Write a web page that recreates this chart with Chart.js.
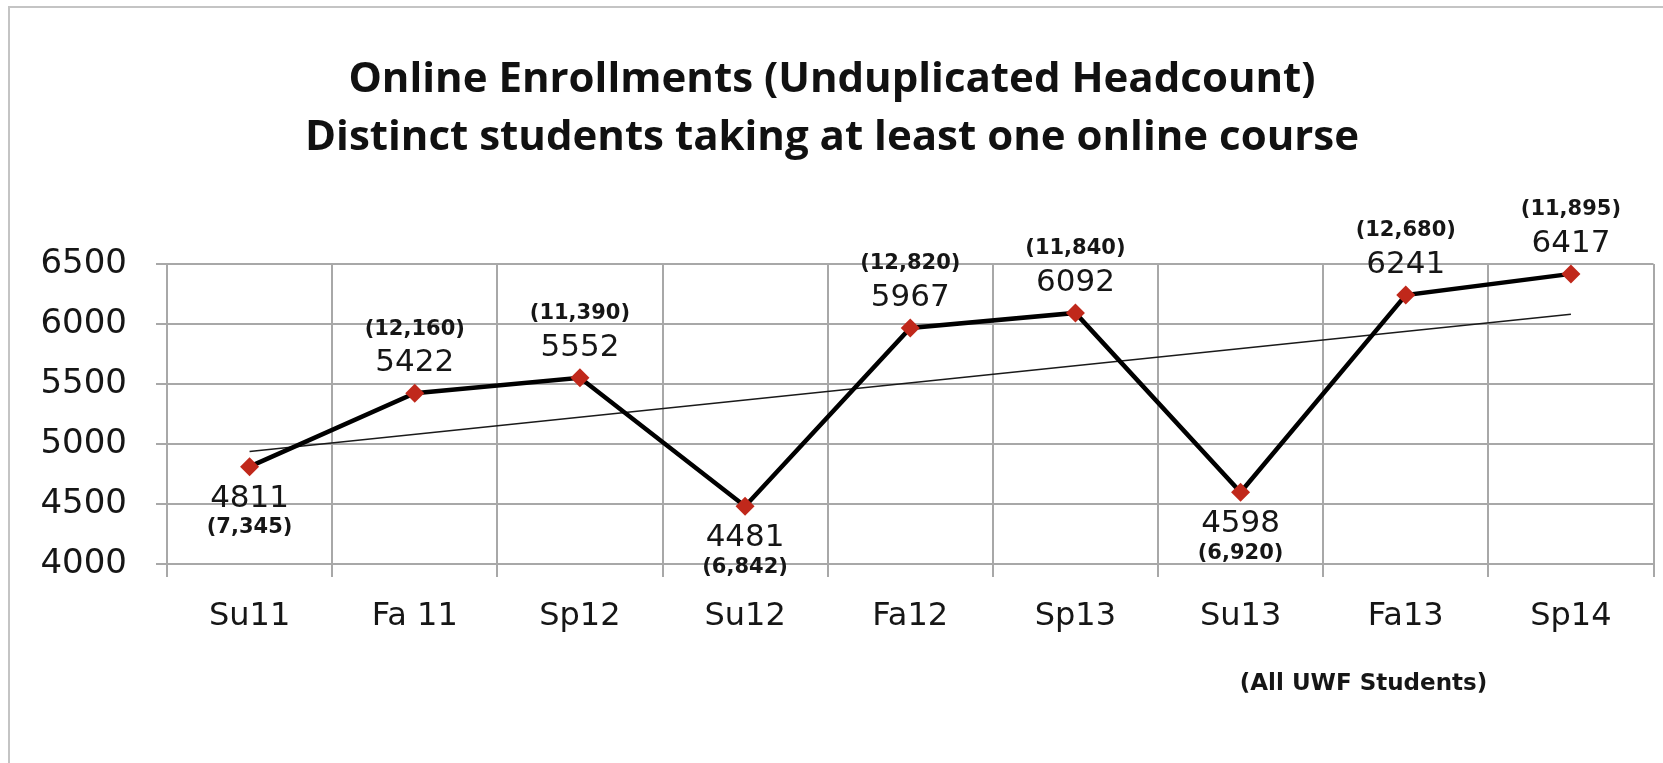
<!DOCTYPE html>
<html>
<head>
<meta charset="utf-8">
<title>Online Enrollments</title>
<script src="https://cdn.jsdelivr.net/npm/chart.js@4"></script>
<style>
  html, body { margin: 0; padding: 0; background: #fff; }
  #wrap { width: 1663px; height: 763px; }
</style>
</head>
<body>
<div id="wrap"><canvas id="line-chart" width="1663" height="763"></canvas></div>
<script>
// terms on the x axis
var terms = ["Su11", "Fa 11", "Sp12", "Su12", "Fa12", "Sp13", "Su13", "Fa13", "Sp14"];
// online unduplicated headcount
var onlineStudents = [4811, 5422, 5552, 4481, 5967, 6092, 4598, 6241, 6417];
// all UWF students (shown in brackets)
var allStudents = ["(7,345)", "(12,160)", "(11,390)", "(6,842)", "(12,820)", "(11,840)", "(6,920)", "(12,680)", "(11,895)"];
// which side of the marker the labels sit on
var labelSide = ["below", "above", "above", "below", "above", "above", "below", "above", "above"];
// linear trend line, start and end values
var trendLine = [4937, null, null, null, null, null, null, null, 6081];
var yTicks = [4000, 4500, 5000, 5500, 6000, 6500];

var gridGray = "#a8a8a8";
var textDark = "#161616";

var decorations = {
  id: "decorations",
  beforeDraw: function (chart) {
    var ctx = chart.ctx;
    ctx.save();
    ctx.fillStyle = "#ffffff";
    ctx.fillRect(0, 0, chart.width, chart.height);
    ctx.strokeStyle = "#c4c4c4";
    ctx.lineWidth = 2;
    ctx.beginPath();
    ctx.moveTo(9, chart.height);
    ctx.lineTo(9, 7);
    ctx.lineTo(chart.width, 7);
    ctx.stroke();
    ctx.restore();
  },
  afterDatasetsDraw: function (chart) {
    var ctx = chart.ctx;
    var meta = chart.getDatasetMeta(0);
    ctx.save();
    ctx.textAlign = "center";
    ctx.textBaseline = "middle";
    ctx.fillStyle = textDark;
    meta.data.forEach(function (pt, i) {
      var up = labelSide[i] === "above";
      ctx.font = "31px 'DejaVu Sans'";
      ctx.fillText(String(onlineStudents[i]), pt.x, pt.y + (up ? -30 : 32));
      ctx.font = "bold 21px 'DejaVu Sans'";
      ctx.fillText(allStudents[i], pt.x, pt.y + (up ? -64 : 61));
    });
    ctx.font = "bold 23px 'DejaVu Sans'";
    ctx.fillText("(All UWF Students)", chart.chartArea.right - 290, 684);
    ctx.restore();
  }
};

new Chart(document.getElementById("line-chart"), {
  type: "line",
  data: {
    labels: terms,
    datasets: [
      {
        label: "Online",
        data: onlineStudents,
        borderColor: "#000000",
        borderWidth: 4.5,
        tension: 0,
        pointStyle: "rectRot",
        pointRadius: 9.5,
        pointBackgroundColor: "#c0281b",
        pointBorderColor: "#c0281b",
        pointBorderWidth: 0,
        clip: false
      },
      {
        label: "Trend",
        data: trendLine,
        spanGaps: true,
        borderColor: "#1a1a1a",
        borderWidth: 1.5,
        pointRadius: 0,
        tension: 0
      }
    ]
  },
  options: {
    responsive: false,
    animation: false,
    events: [],
    layout: { padding: { left: 8, right: 7, top: 0, bottom: 0 } },
    plugins: {
      legend: { display: false },
      tooltip: { enabled: false },
      title: {
        display: true,
        text: ["Online Enrollments (Unduplicated Headcount)", "Distinct students taking at least one online course"],
        color: "#111111",
        font: { family: "'Open Sans'", size: 42, weight: "bold", lineHeight: 1.38 },
        padding: { top: 51, bottom: 97 }
      }
    },
    scales: {
      x: {
        offset: true,
        grid: { offset: true, color: gridGray, lineWidth: 2, tickLength: 13 },
        border: { color: gridGray, width: 2 },
        ticks: {
          color: textDark,
          padding: 20,
          maxRotation: 0,
          font: { family: "'DejaVu Sans'", size: 32 }
        },
        afterFit: function (s) { s.height = 199; }
      },
      y: {
        min: 4000,
        max: 6500,
        afterBuildTicks: function (s) {
          s.ticks = yTicks.map(function (v) { return { value: v }; });
        },
        grid: { color: gridGray, lineWidth: 2, tickLength: 11 },
        border: { color: gridGray, width: 2 },
        ticks: {
          color: textDark,
          padding: 29,
          font: { family: "'DejaVu Sans'", size: 34 },
          callback: function (v) { return String(v); }
        },
        afterFit: function (s) { s.width = 159; }
      }
    }
  },
  plugins: [decorations]
});
</script>
</body>
</html>
